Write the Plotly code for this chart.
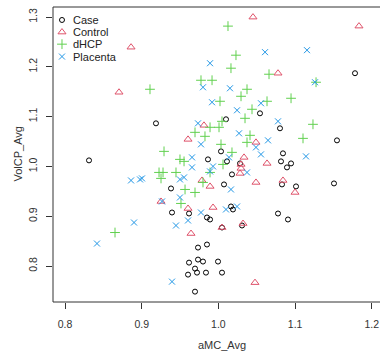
import plotly.graph_objects as go

# ---- data ----
case_x = [0.8313, 0.9186, 1.1781, 1.0542, 1.0099, 1.0803, 1.1546, 1.0034, 1.0842, 0.9864,
          1.0112, 1.0282, 1.0816, 1.0947, 1.0894, 1.0177, 1.1507, 1.0073, 0.9382, 1.0829,
          1.1012, 0.9395, 0.9617, 0.9851, 0.9891, 1.0164, 1.0190, 1.0047, 1.0777, 1.0907,
          1.0308, 0.9734, 0.9851, 0.9617, 0.9734, 0.9799, 0.9995, 0.9695, 0.9721, 0.9604,
          0.9838, 1.0047, 0.9695]
case_y = [1.0121, 1.0865, 1.1871, 1.1066, 1.0946, 1.0765, 1.0523, 1.0302, 1.0262, 1.0141,
          1.0101, 1.0060, 1.0101, 1.0060, 0.9980, 0.9839, 0.9658, 0.9638, 0.9557, 0.9638,
          0.9598, 0.9074, 0.9054, 0.8974, 0.8934, 0.9195, 0.9135, 0.8773, 0.9054, 0.8934,
          0.8813, 0.8370, 0.8431, 0.8068, 0.8129, 0.8089, 0.8089, 0.7948, 0.7867, 0.7827,
          0.7867, 0.7867, 0.7485]

control_x = [0.8861, 0.8704, 1.0451, 1.1833, 1.0777, 0.9812, 0.9604, 1.0490, 1.0334, 1.0295,
             1.0295, 1.0282, 1.0634, 0.9786, 0.9891, 1.0490, 1.0842, 1.0999, 0.9252, 0.9604,
             0.9930, 1.0047, 1.0321, 0.9643, 1.0477]
control_y = [1.2394, 1.1489, 1.2998, 1.2817, 1.1871, 1.0825, 1.0543, 1.0483, 1.0181, 1.0040,
             0.9960, 0.9859, 1.0060, 0.9718, 0.9598, 0.9678, 0.9718, 0.9477, 0.9296, 0.9155,
             0.9175, 0.8773, 0.8853, 0.8652, 0.7666]

dhcp_x = [0.9108, 0.9291, 0.9499, 0.9552, 0.9226, 0.9278, 0.9447, 0.9252, 1.0125, 1.0229,
          1.0164, 1.0660, 0.9773, 0.9917, 1.1273, 1.0373, 1.0295, 1.0947, 1.0021, 1.0634,
          1.0438, 1.0347, 1.0047, 0.9891, 1.0008, 1.1233, 0.9695, 0.9825, 1.0412, 1.1103,
          1.0373, 1.0034, 1.0177, 1.0060, 0.9891, 0.9799, 0.9565, 0.9695, 0.9512, 0.8652]
dhcp_y = [1.1549, 1.0302, 1.0141, 1.0101, 0.9879, 0.9879, 0.9879, 0.9759, 1.2817, 1.2233,
          1.1972, 1.1851, 1.1730, 1.1730, 1.1690, 1.1549, 1.1408, 1.1368, 1.1308, 1.1308,
          1.1147, 1.0966, 1.0905, 1.0785, 1.0785, 1.0845, 1.0684, 1.0604, 1.0624, 1.0563,
          1.0483, 1.0443, 1.0282, 1.0040, 0.9879, 0.9678, 0.9537, 0.9477, 0.9256, 0.8672]

placenta_x = [1.0608, 1.1155, 0.9891, 0.9799, 1.0151, 0.9917, 1.0555, 1.0243, 1.1260, 1.0777,
              0.9734, 1.0269, 1.0647, 0.9773, 1.0490, 1.0555, 1.0138, 1.1142, 0.9656, 0.9930,
              0.9656, 0.9891, 1.0373, 0.9499, 0.9552, 0.9004, 1.0164, 0.9499, 0.9265, 0.9773,
              0.9604, 0.9447, 1.0099, 1.0243, 0.9395, 0.8861, 0.8978, 0.8900, 0.8417]
placenta_y = [1.2294, 1.2334, 1.2072, 1.1589, 1.1569, 1.1288, 1.1268, 1.1127, 1.1690, 1.0905,
              1.0865, 1.0664, 1.0523, 1.0443, 1.0382, 1.0241, 1.0181, 1.0201, 1.0181, 1.0000,
              0.9980, 0.9899, 0.9879, 0.9738, 0.9779, 0.9759, 0.9537, 0.9376, 0.9296, 0.9074,
              0.8914, 0.8813, 0.9135, 0.9195, 0.7686, 0.9718, 0.9738, 0.8873, 0.8451]

groups = ["Case", "Control", "dHCP", "Placenta"]
x_ticks = [0.8, 0.9, 1.0, 1.1, 1.2]
y_ticks = [0.8, 0.9, 1.0, 1.1, 1.2, 1.3]

# ---- styling ----
colors = ["#000000", "#DF536B", "#61D04F", "#2297E6"]
symbols = ["circle-open", "triangle-up-open", "cross-thin-open", "x-thin-open"]
sizes = [5, 7, 7, 6]
FONT = "Liberation Sans, Arial, sans-serif"
AX = "#333333"

series = [(case_x, case_y), (control_x, control_y), (dhcp_x, dhcp_y), (placenta_x, placenta_y)]

fig = go.Figure()
for (xs, ys), name, c, s, sz in zip(series, groups, colors, symbols, sizes):
    fig.add_trace(go.Scatter(
        x=xs, y=ys, mode="markers", name=name, showlegend=False,
        marker=dict(symbol=s, size=sz, color=c, line=dict(width=1, color=c)),
    ))

# manual legend (top-left, no box) on an overlay axis in unit coordinates
leg_y = [0.956, 0.915, 0.874, 0.832]
for name, c, s, sz, ly in zip(groups, colors, symbols, sizes, leg_y):
    fig.add_trace(go.Scatter(
        x=[0.0275], y=[ly], xaxis="x2", yaxis="y2", mode="markers", showlegend=False,
        marker=dict(symbol=s, size=sz, color=c, line=dict(width=1, color=c)),
        hoverinfo="skip",
    ))
    fig.add_annotation(x=0.055, y=ly, xref="paper", yref="paper", text=name,
                       showarrow=False, xanchor="left", yanchor="middle",
                       font=dict(family=FONT, size=11, color="#222"))

fig.update_layout(
    width=380, height=352,
    margin=dict(l=53, r=0, t=7, b=50),
    paper_bgcolor="white", plot_bgcolor="white",
    font=dict(family=FONT, size=10.5, color="#333"),
    xaxis=dict(range=[0.78435, 1.21069], tickvals=x_ticks, ticktext=[f"{v:.1f}" for v in x_ticks],
               ticks="outside", ticklen=6, tickcolor=AX, showgrid=False, zeroline=False,
               showline=False, ticklabelstandoff=6),
    yaxis=dict(range=[0.7277, 1.3201], tickvals=y_ticks, ticktext=[f"{v:.1f}" for v in y_ticks],
               ticks="outside", ticklen=6, tickcolor=AX, showgrid=False, zeroline=False,
               showline=False, tickangle=-90, ticklabelstandoff=5),
    xaxis2=dict(overlaying="x", range=[0, 1], visible=False),
    yaxis2=dict(overlaying="y", range=[0, 1], visible=False),
    shapes=[dict(type="rect", xref="paper", yref="paper", x0=0, x1=1.1, y0=0, y1=1,
                 line=dict(color=AX, width=1), fillcolor="rgba(0,0,0,0)", layer="above")],
)

fig.add_annotation(x=0.517, y=-0.146, xref="paper", yref="paper", text="aMC_Avg",
                   showarrow=False, xanchor="center", yanchor="middle",
                   font=dict(family=FONT, size=11, color="#333"))
fig.add_annotation(x=-0.110, y=0.5, xref="paper", yref="paper", text="VolCP_Avg",
                   showarrow=False, textangle=-90, xanchor="center", yanchor="middle",
                   font=dict(family=FONT, size=11, color="#333"))

fig.write_html("out.html", config={"displayModeBar": False},
               post_script="document.body.style.margin='0';document.body.style.overflow='hidden';")
